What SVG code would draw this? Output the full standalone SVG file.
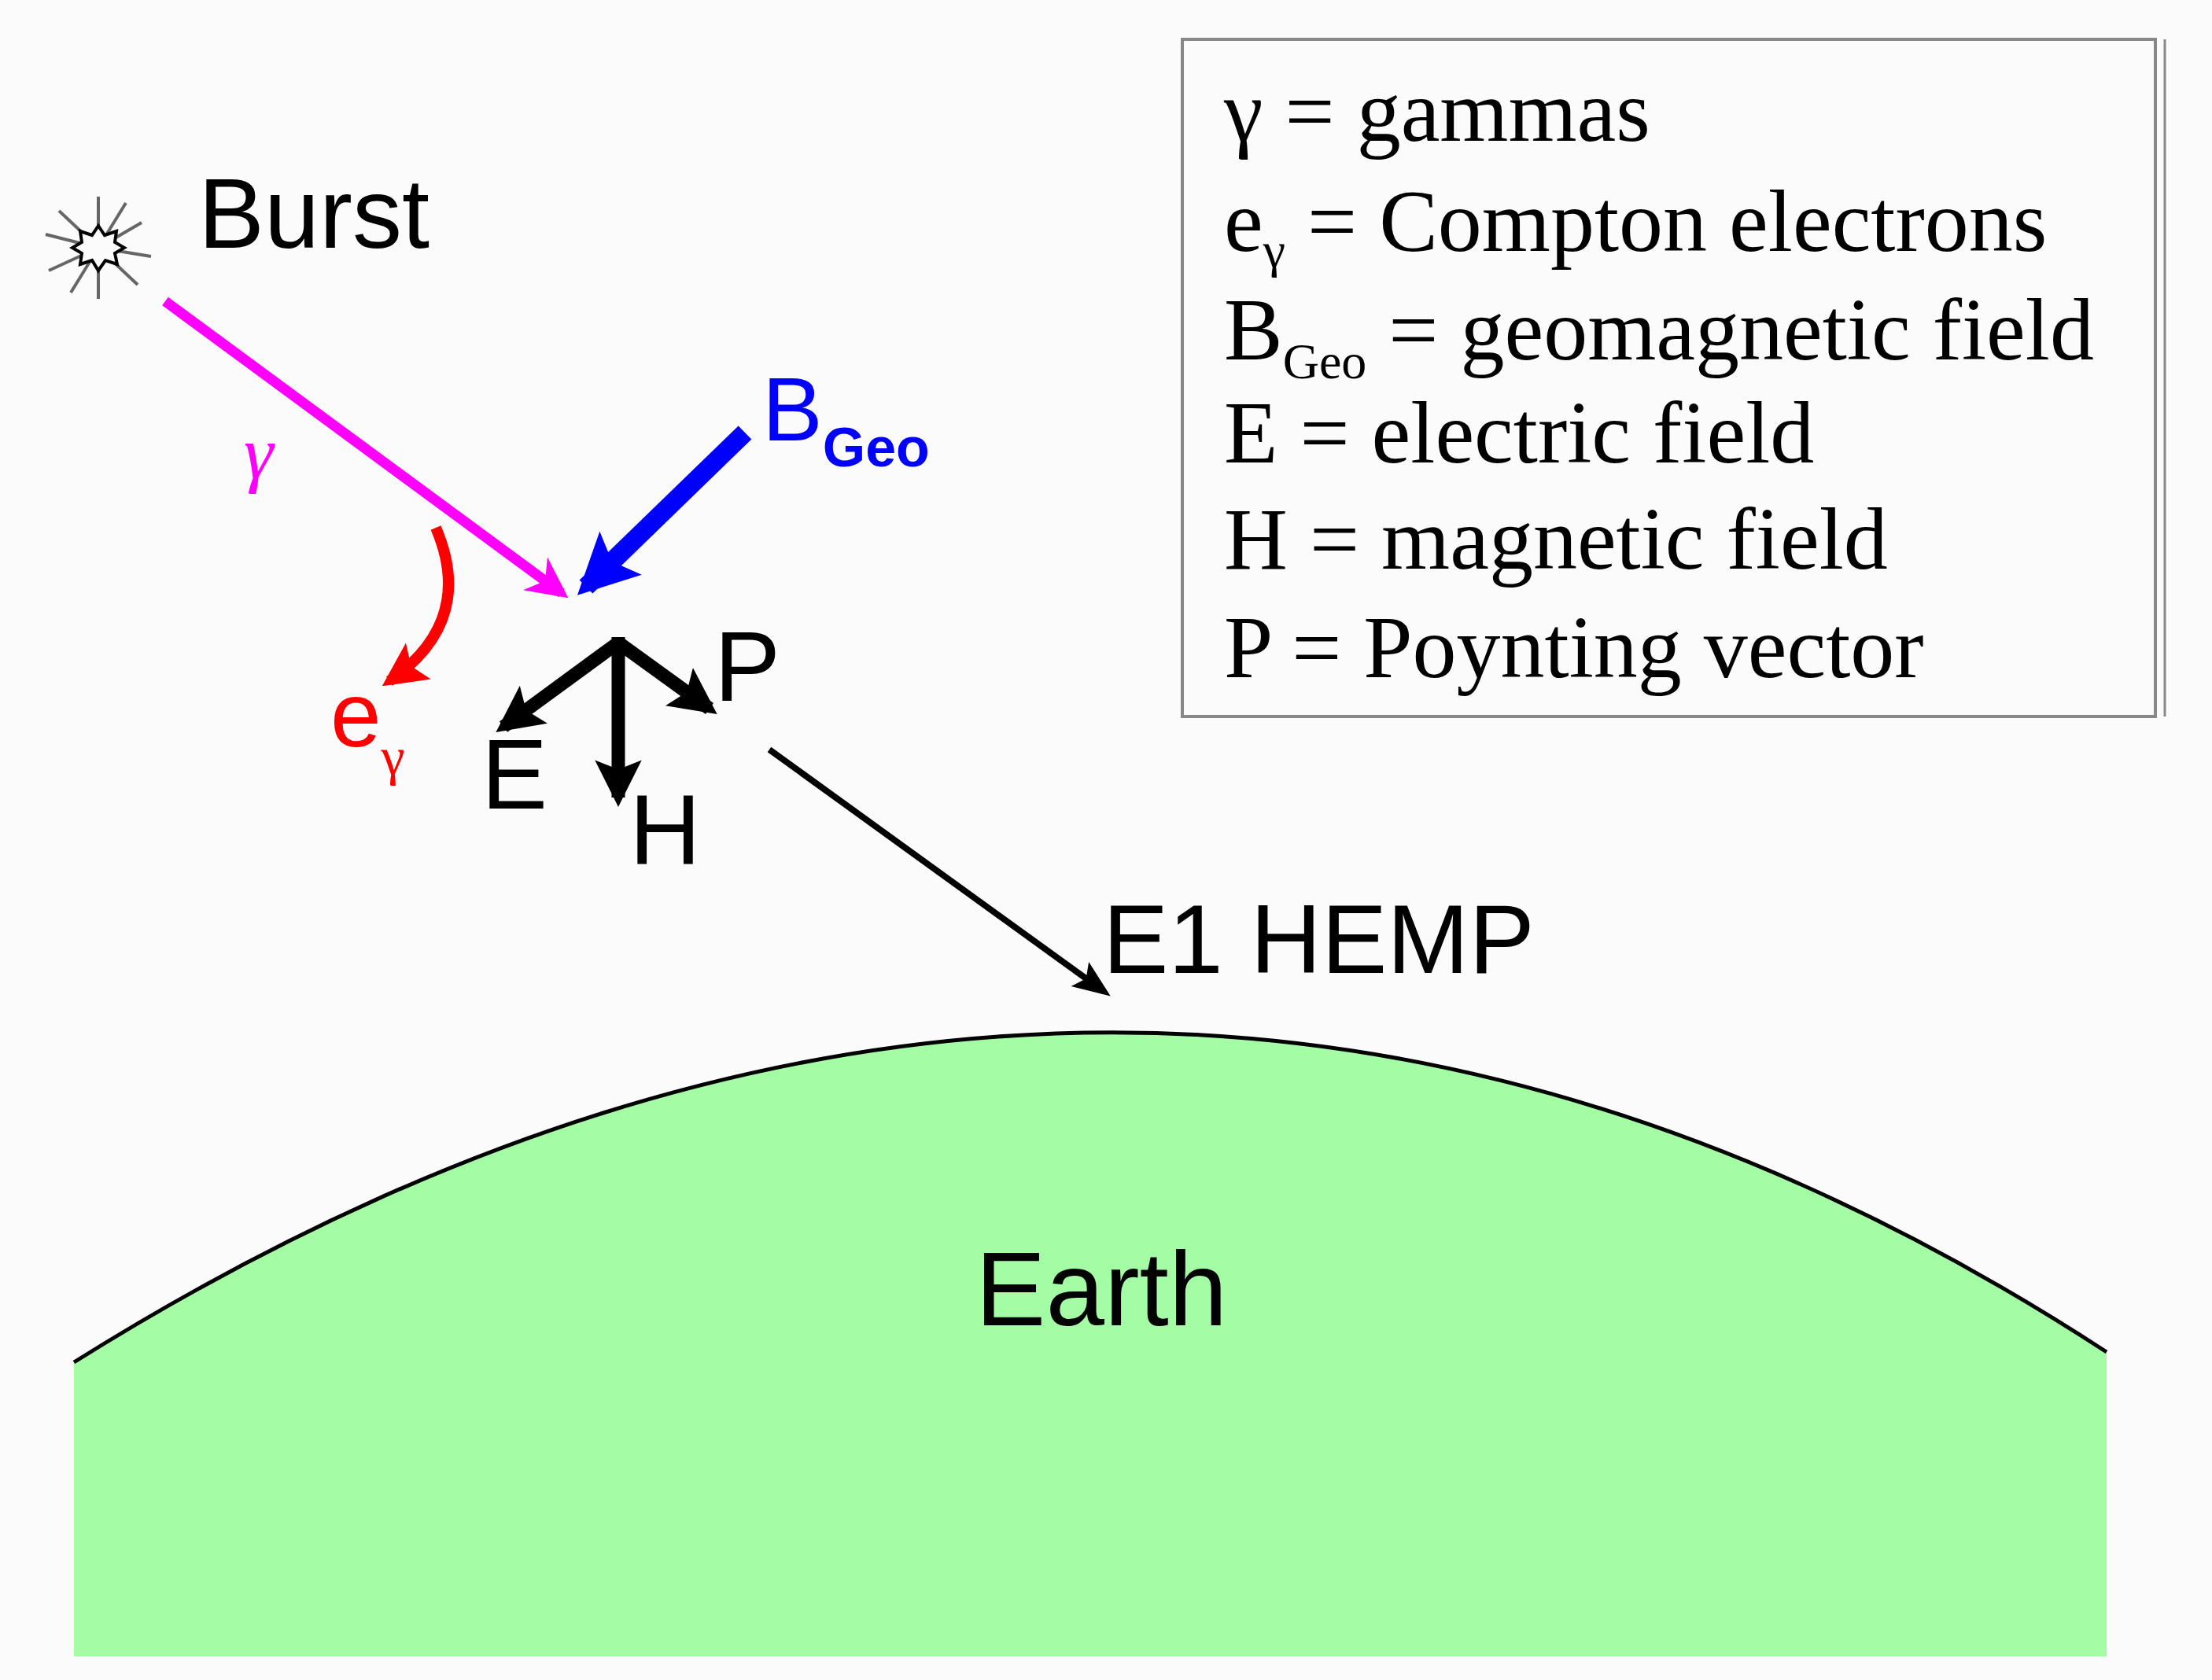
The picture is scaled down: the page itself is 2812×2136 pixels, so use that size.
<svg xmlns="http://www.w3.org/2000/svg" width="2812" height="2136" viewBox="0 0 2812 2136">
<style>
.s{font-family:"Liberation Sans",Arial,sans-serif}
.t{font-family:"Liberation Serif","Times New Roman",serif;font-size:112px;fill:#000}
</style>
<defs>
<marker id="mm" viewBox="0 0 10 10" refX="8" refY="5" markerWidth="4" markerHeight="4" orient="auto" markerUnits="strokeWidth"><path d="M0,0L10,5L0,10L3,5z" fill="#ff00ff"/></marker>
<marker id="mb" viewBox="0 0 10 10" refX="8" refY="5" markerWidth="3.2" markerHeight="3.2" orient="auto" markerUnits="strokeWidth"><path d="M0,0L10,5L0,10L2,5z" fill="#0000ff"/></marker>
<marker id="mr" viewBox="0 0 10 10" refX="8" refY="5" markerWidth="4" markerHeight="4" orient="auto" markerUnits="strokeWidth"><path d="M0,0L10,5L0,10L2,5z" fill="#ff0000"/></marker>
<marker id="mk" viewBox="0 0 10 10" refX="8" refY="5" markerWidth="3.5" markerHeight="3.5" orient="auto" markerUnits="strokeWidth"><path d="M0,0L10,5L0,10L2,5z" fill="#000"/></marker>
<marker id="mk2" viewBox="0 0 10 10" refX="8" refY="5" markerWidth="6" markerHeight="6" orient="auto" markerUnits="strokeWidth"><path d="M0,1L10,5L0,9L2,5z" fill="#000"/></marker>
</defs>
<rect width="2812" height="2136" fill="#fbfbfb"/>
<g id="earth">
<path d="M94,1732 Q1422,900 2678,1719 L2678,2106 L94,2106 Z" fill="#a4fca4"/>
<path d="M94,1732 Q1422,900 2678,1719" fill="none" stroke="#000" stroke-width="5"/>
<text class="s" x="1240" y="1685" font-size="134">Earth</text>
</g>
<g id="burst">
<g stroke="#666" stroke-width="4">
<line x1="125" y1="315" x2="125" y2="250"/><line x1="125" y1="315" x2="125" y2="380"/>
<line x1="125" y1="315" x2="58" y2="298"/><line x1="125" y1="315" x2="192" y2="326"/>
<line x1="125" y1="315" x2="75" y2="268"/><line x1="125" y1="315" x2="175" y2="362"/>
<line x1="125" y1="315" x2="160" y2="258"/><line x1="125" y1="315" x2="90" y2="372"/>
<line x1="125" y1="315" x2="180" y2="283"/><line x1="125" y1="315" x2="62" y2="344"/>
</g>
<path d="M125,287 L133,299 L148,294 L146,308 L158,315 L146,322 L149,336 L134,331 L125,344 L117,331 L102,336 L104,322 L92,315 L104,308 L102,294 L117,299Z" fill="#fbfbfb" stroke="#000" stroke-width="4"/>
<text class="s" x="252" y="315" font-size="126">Burst</text>
</g>
<g id="legend">
<rect x="1503" y="50" width="1237" height="861" fill="#fbfbfb" stroke="#888" stroke-width="4"/>
<line x1="2752" y1="50" x2="2752" y2="911" stroke="#888" stroke-width="3"/>
<text class="t" x="1556" y="179">γ = gammas</text>
<text class="t" x="1556" y="319">e<tspan font-size="64" dy="20">γ</tspan><tspan dy="-20"> = Compton electrons</tspan></text>
<text class="t" x="1556" y="457">B<tspan font-size="64" dy="24">Geo</tspan><tspan dy="-24"> = geomagnetic field</tspan></text>
<text class="t" x="1556" y="588">E = electric field</text>
<text class="t" x="1556" y="723">H = magnetic field</text>
<text class="t" x="1556" y="861">P = Poynting vector</text>
</g>
<g id="connectors" fill="none">
<line x1="210" y1="383" x2="714" y2="754" stroke="#ff00ff" stroke-width="13" marker-end="url(#mm)"/>
<line x1="947" y1="550" x2="745" y2="746" stroke="#0000ff" stroke-width="24" marker-end="url(#mb)"/>
<path d="M554,671 Q605,790 495,866" stroke="#ff0000" stroke-width="14" marker-end="url(#mr)"/>
<line x1="786" y1="817" x2="640" y2="924" stroke="#000" stroke-width="17" marker-end="url(#mk)"/>
<line x1="786" y1="817" x2="902" y2="901" stroke="#000" stroke-width="17" marker-end="url(#mk)"/>
<line x1="786" y1="810" x2="786" y2="1014" stroke="#000" stroke-width="17" marker-end="url(#mk)"/>
<line x1="978" y1="953" x2="1404" y2="1261" stroke="#000" stroke-width="8" marker-end="url(#mk2)"/>
</g>
<g id="labels" class="s">
<text x="310" y="608" font-family="Liberation Serif,serif" font-style="italic" font-size="95" fill="#ff00ff">γ</text>
<text x="969" y="560" font-size="115" fill="#0000ff">B<tspan font-size="70" font-weight="bold" dy="33">Geo</tspan></text>
<text x="420" y="949" font-size="116" fill="#ff0000">e<tspan font-family="Liberation Serif,serif" font-size="68" dy="36">γ</tspan></text>
<text x="612" y="1028" font-size="126">E</text>
<text x="800" y="1098" font-size="126">H</text>
<text x="908" y="891" font-size="126">P</text>
<text x="1402" y="1237" font-size="125">E1 HEMP</text>
</g>
</svg>
